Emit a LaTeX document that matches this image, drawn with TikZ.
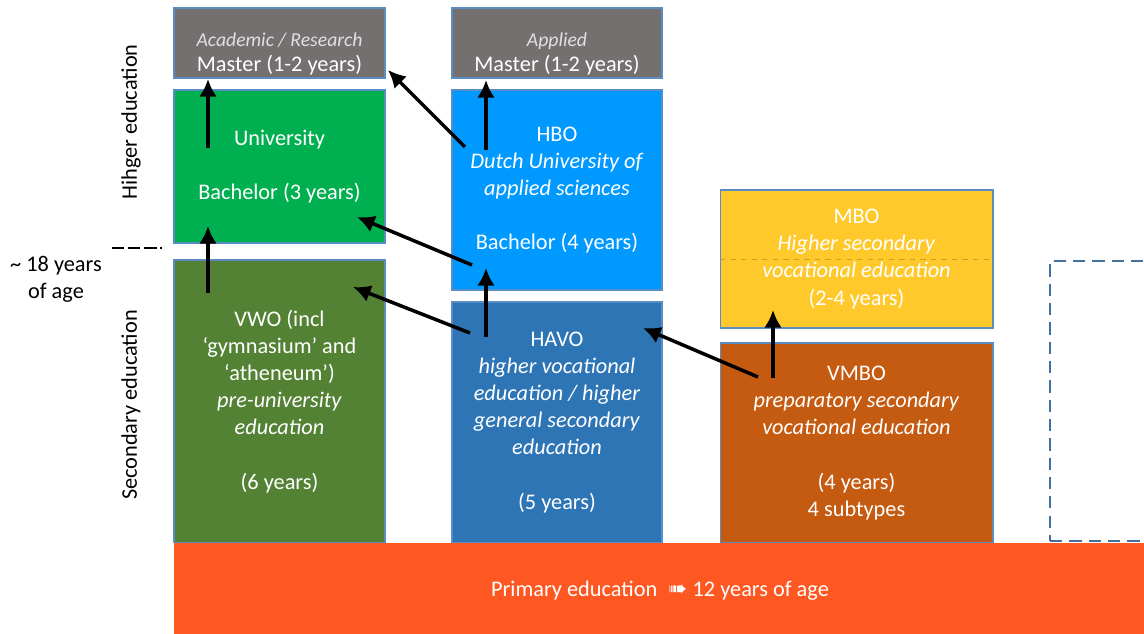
\documentclass[tikz,border=0pt]{standalone}
\usepackage{fontspec}
\setmainfont{Carlito}
\newfontfamily\symfont{DejaVu Sans}
\usepackage{tikz}
\usetikzlibrary{arrows,arrows.meta}

\definecolor{mastergray}{HTML}{757070}
\definecolor{unigreen}{HTML}{00B050}
\definecolor{vwogreen}{HTML}{548235}
\definecolor{hboblue}{HTML}{0099FF}
\definecolor{havoblue}{HTML}{2E75B6}
\definecolor{mboyellow}{HTML}{FFC92B}
\definecolor{vmboorange}{HTML}{C55A11}
\definecolor{primred}{HTML}{FF5722}
\definecolor{boxline}{HTML}{5B8CC4}
\definecolor{dashblue}{HTML}{41719C}

\begin{document}
\begin{tikzpicture}[x=0.02cm, y=-0.02cm,
  box/.style={draw=boxline, line width=0.6pt, text=white, align=center, inner sep=0pt,
    font=\fontsize{12.7}{15.4}\selectfont},
  mtext/.style={text=white, align=center, inner sep=0pt, font=\fontsize{12.7}{14.2}\selectfont},
  flow/.style={draw, -{Latex[length=10pt,width=10pt]}, line width=2pt},
  side/.style={align=center, font=\fontsize{12.7}{15.4}\selectfont}]
\useasboundingbox (0,0) rectangle (1144,634);

% higher education
\node[box, fill=mastergray, minimum width=4.22cm, minimum height=1.4cm] (acad) at (279.5,43) {};
\node[mtext] (acadtxt) at (279.5,54) {{\fontsize{11.2}{14}\selectfont\itshape\color{white!88!black}Academic / Research}\\Master (1-2 years)};
\node[box, fill=mastergray, minimum width=4.2cm, minimum height=1.4cm] (appl) at (557,43) {};
\node[mtext] (appltxt) at (557,54) {{\fontsize{11.2}{14}\selectfont\itshape\color{white!88!black}Applied}\\Master (1-2 years)};
\node[box, fill=unigreen, minimum width=4.22cm, minimum height=3.06cm] (univ) at (279.5,166.5) {University\\[15.4pt]Bachelor (3 years)};
\node[box, fill=hboblue, minimum width=4.2cm, minimum height=4.0cm] (hbo) at (557,190) {HBO\\\textit{Dutch University of}\\\textit{applied sciences}\\[15.4pt]Bachelor (4 years)};
\node[box, fill=mboyellow, minimum width=5.46cm, minimum height=2.76cm,
  path picture={\draw[dashed, line width=0.3pt, draw=mboyellow!80!black] (path picture bounding box.west) -- (path picture bounding box.east);}]
  (mbo) at (856.5,259) {MBO\\\textit{Higher secondary}\\\textit{vocational education}\\(2-4 years)};

% secondary education
\node[box, fill=vwogreen, minimum width=4.22cm, minimum height=5.66cm] (vwo) at (279.5,401.5) {VWO (incl\\‘gymnasium’ and\\‘atheneum’)\\\textit{pre-university}\\\textit{education}\\[15.4pt](6 years)};
\node[box, fill=havoblue, minimum width=4.2cm, minimum height=4.82cm] (havo) at (557,422.5) {HAVO\\\textit{higher vocational}\\\textit{education / higher}\\\textit{general secondary}\\\textit{education}\\[15.4pt](5 years)};
\node[box, fill=vmboorange, minimum width=5.46cm, minimum height=4.0cm] (vmbo) at (856.5,443) {VMBO\\\textit{preparatory secondary}\\\textit{vocational education}\\[15.4pt](4 years)\\4 subtypes};
\node[draw=dashblue, line width=1.4pt, dash pattern=on 7pt off 4pt, minimum width=2cm, minimum height=5.6cm] (other) at (1100,401) {};

% primary education
\node[box, draw=none, fill=primred, minimum width=19.4cm, minimum height=1.82cm] (prim) at (659,588.5) {};
\node[mtext, font=\fontsize{12.7}{15.4}\selectfont] (primtxt) at (660,591) {Primary education\enspace{\symfont\fontsize{13}{15}\selectfont ➠} 12 years of age};

% side labels
\node[side, rotate=90] (higher) at (131,122) {Hihger education};
\node[side, rotate=90] (secondary) at (131,405) {Secondary education};
\node[side] (age) at (56,279) {\textasciitilde{} 18 years\\of age};
\coordinate (divl) at (112,248);
\coordinate (divr) at (162,248);
\draw[line width=0.7pt, dash pattern=on 7pt off 2.2pt] (divl) -- (divr);

% routes
\coordinate (univ-a) at (208,148);  \coordinate (acad-in) at (208,79);
\coordinate (vwo-a) at (208,293);   \coordinate (univ-in) at (208,226);
\coordinate (hbo-a) at (465,147);   \coordinate (acad-side) at (388,70);
\coordinate (hbo-b) at (486,150);   \coordinate (appl-in) at (486,80);
\coordinate (hbo-c) at (472,265);   \coordinate (univ-side) at (357,217);
\coordinate (havo-a) at (486,337);  \coordinate (hbo-in) at (486,268);
\coordinate (havo-b) at (470,333);  \coordinate (vwo-side) at (353,287);
\coordinate (vmbo-a) at (758,377);  \coordinate (havo-side) at (643,328);
\coordinate (vmbo-b) at (773,378);  \coordinate (mbo-in) at (773,310);
\draw[flow] (univ-a) -- (acad-in);
\draw[flow] (vwo-a) -- (univ-in);
\draw[flow] (hbo-a) -- (acad-side);
\draw[flow] (hbo-b) -- (appl-in);
\draw[flow] (hbo-c) -- (univ-side);
\draw[flow] (havo-a) -- (hbo-in);
\draw[flow] (havo-b) -- (vwo-side);
\draw[flow] (vmbo-a) -- (havo-side);
\draw[flow] (vmbo-b) -- (mbo-in);
\end{tikzpicture}
\end{document}
